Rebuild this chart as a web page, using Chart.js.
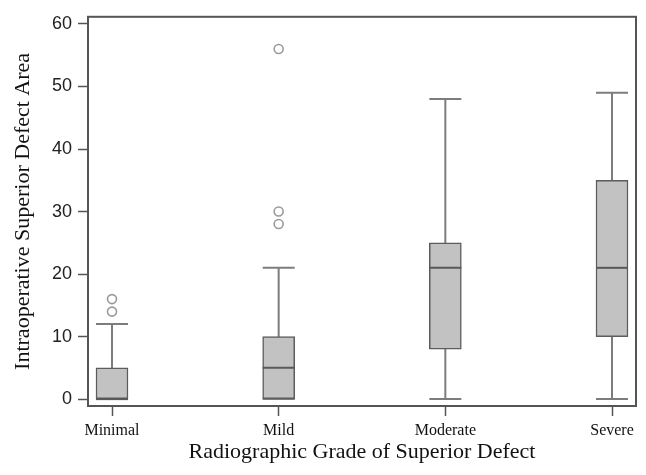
<!DOCTYPE html>
<html>
<head>
<meta charset="utf-8">
<script src="https://cdn.jsdelivr.net/npm/chart.js@4"></script>
<style>
  html, body { margin: 0; padding: 0; background: #fff; }
  #wrap { width: 646px; height: 475px; }
</style>
</head>
<body>
<div id="wrap"><canvas id="boxChart"></canvas></div>
<script>
// box plot values
const categories = ['Minimal', 'Mild', 'Moderate', 'Severe'];
const whiskerLow = [0, 0, 0, 0];
const q1 = [0, 0, 8, 10];
const median = [0, 5, 21, 21];
const q3 = [5, 10, 25, 35];
const whiskerHigh = [12, 21, 48, 49];
const outlierCat = [0, 0, 1, 1, 1];
const outlierVal = [14, 16, 28, 30, 56];

const yTitle = 'Intraoperative Superior Defect Area';
const xTitle = 'Radiographic Grade of Superior Defect';

const boxData = categories.map((c, i) => ({x: i, y: [q1[i], q3[i]]}));
const outlierData = outlierVal.map((v, i) => ({x: outlierCat[i], y: v}));

const BOX_W = 32;

// whiskers + caps under the boxes, medians + frame on top
const boxPlugin = {
  id: 'boxExtras',
  beforeDatasetsDraw(chart) {
    const ctx = chart.ctx, xs = chart.scales.x, ys = chart.scales.y;
    ctx.save();
    ctx.strokeStyle = '#7d7d7d';
    ctx.lineWidth = 2;
    categories.forEach((c, i) => {
      const px = xs.getPixelForValue(i);
      const lo = ys.getPixelForValue(whiskerLow[i]);
      const hi = ys.getPixelForValue(whiskerHigh[i]);
      ctx.beginPath();
      ctx.moveTo(px, lo); ctx.lineTo(px, hi);
      ctx.moveTo(px - BOX_W / 2, lo); ctx.lineTo(px + BOX_W / 2, lo);
      ctx.moveTo(px - BOX_W / 2, hi); ctx.lineTo(px + BOX_W / 2, hi);
      ctx.stroke();
    });
    ctx.restore();
  },
  afterDatasetsDraw(chart) {
    const ctx = chart.ctx, xs = chart.scales.x, ys = chart.scales.y;
    ctx.save();
    ctx.strokeStyle = '#595959';
    ctx.lineWidth = 2;
    categories.forEach((c, i) => {
      const px = xs.getPixelForValue(i);
      const m = ys.getPixelForValue(median[i]);
      ctx.beginPath();
      ctx.moveTo(px - BOX_W / 2, m); ctx.lineTo(px + BOX_W / 2, m);
      ctx.stroke();
    });
    const a = chart.chartArea;
    ctx.strokeStyle = '#555';
    ctx.lineWidth = 2;
    ctx.strokeRect(a.left, a.top, a.right - a.left, a.bottom - a.top);
    ctx.restore();
  }
};

new Chart(document.getElementById('boxChart'), {
  type: 'bar',
  data: {
    datasets: [{
      type: 'scatter',
      data: outlierData,
      pointStyle: 'circle',
      pointRadius: 4.5,
      borderColor: '#9a9a9a',
      backgroundColor: 'rgba(255,255,255,0)',
      borderWidth: 1.6
    }, {
      data: boxData,
      backgroundColor: '#c2c2c2',
      borderColor: '#5c5c5c',
      borderWidth: 1.5,
      borderSkipped: false,
      barThickness: BOX_W
    }]
  },
  options: {
    responsive: true,
    maintainAspectRatio: false,
    animation: false,
    layout: { padding: { top: 11, right: 10, left: 0, bottom: 0 } },
    plugins: { legend: { display: false }, tooltip: { enabled: false } },
    scales: {
      x: {
        type: 'linear',
        offset: false,
        min: -0.144,
        max: 3.144,
        afterFit: s => { s.height = 69; },
        grid: { offset: false, drawOnChartArea: false, tickLength: 10, tickColor: '#555', tickWidth: 1.5 },
        border: { display: true, color: '#555', width: 2 },
        ticks: {
          stepSize: 1,
          includeBounds: false,
          autoSkip: false,
          maxRotation: 0,
          padding: 5,
          color: '#111',
          font: { family: 'Liberation Serif', size: 16 },
          callback: v => categories[v]
        },
        title: {
          display: true,
          text: xTitle,
          color: '#111',
          font: { family: 'Liberation Serif', size: 22 },
          padding: { top: 0, bottom: 10 }
        }
      },
      y: {
        min: -1.1,
        max: 61.15,
        afterFit: s => { s.width = 88; },
        grid: { drawOnChartArea: false, tickLength: 10, tickColor: '#555', tickWidth: 1.5 },
        border: { display: true, color: '#555', width: 2 },
        ticks: {
          stepSize: 10,
          includeBounds: false,
          padding: 6,
          color: '#222',
          font: { family: 'Liberation Sans', size: 18 }
        },
        title: {
          display: true,
          text: yTitle,
          color: '#111',
          font: { family: 'Liberation Serif', size: 22 },
          padding: { top: 10, bottom: 0 }
        }
      }
    }
  },
  plugins: [boxPlugin]
});
</script>
</body>
</html>
